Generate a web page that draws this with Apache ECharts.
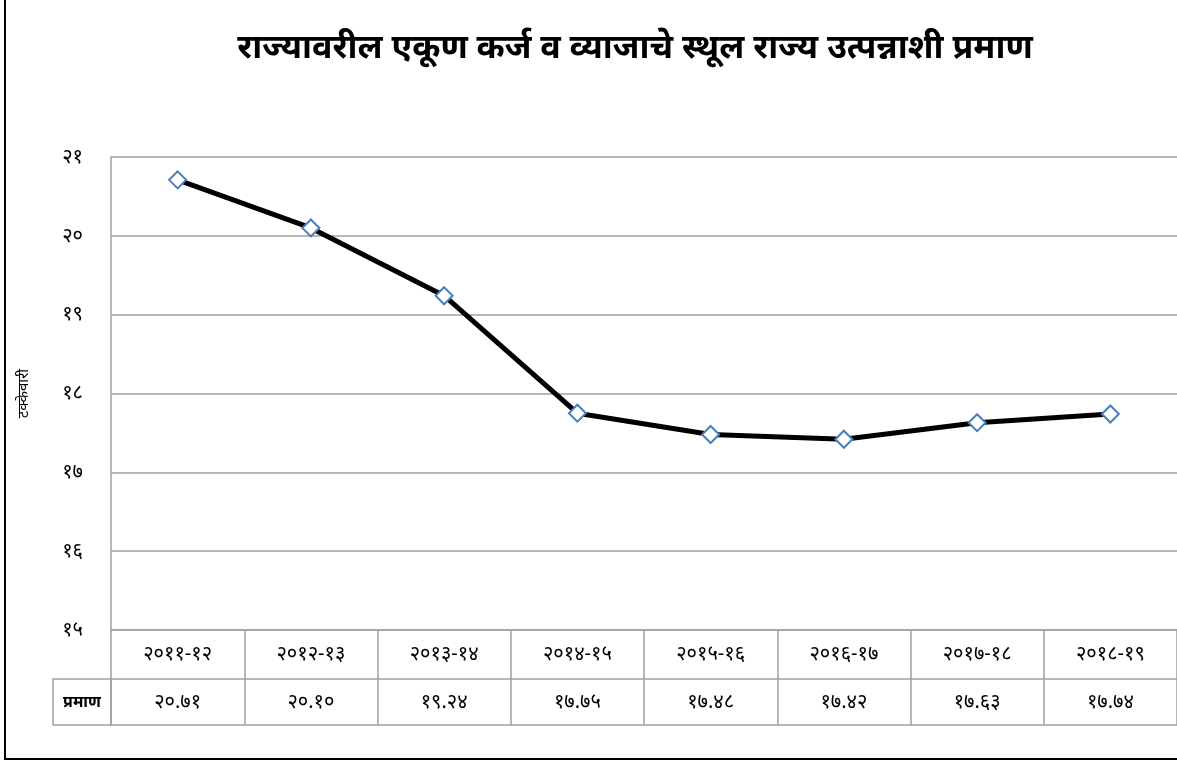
<!DOCTYPE html>
<html>
<head>
<meta charset="utf-8">
<script src="https://cdn.jsdelivr.net/npm/echarts@6/dist/echarts.min.js"></script>
<style>
html,body{margin:0;padding:0;background:#fff;}
#c{width:1177px;height:761px;}
</style>
</head>
<body>
<div id="c"></div>
<script>
const titleText = 'राज्यावरील एकूण कर्ज व व्याजाचे स्थूल राज्य उत्पन्नाशी प्रमाण';
const yAxisName = 'टक्केवारी';
const rowName = 'प्रमाण';
const categories = ['२०११-१२','२०१२-१३','२०१३-१४','२०१४-१५','२०१५-१६','२०१६-१७','२०१७-१८','२०१८-१९'];
const values = [20.71, 20.10, 19.24, 17.75, 17.48, 17.42, 17.63, 17.74];
const yTicks = [15, 16, 17, 18, 19, 20, 21];

const devaDigits = ['०','१','२','३','४','५','६','७','८','९'];
function toDeva(s){ return String(s).replace(/[0-9]/g, d => devaDigits[+d]); }

const FONT = "'Noto Sans', 'Noto Sans Devanagari', sans-serif";
const gridGray = '#a0a0a0';
const numSize = 20;

const chart = echarts.init(document.getElementById('c'), null, {renderer:'canvas'});
chart.setOption({
  animation: false,
  backgroundColor: '#fff',
  textStyle: { fontFamily: FONT },
  title: {
    text: titleText,
    left: 630, textAlign: 'center',
    top: 26,
    textStyle: { fontFamily: FONT, fontSize: 34, fontWeight: 'bold', color: '#000' }
  },
  grid: { left: 111, right: 0, top: 157, bottom: 131, containLabel: false },
  xAxis: [
    {
      type: 'category', data: categories, boundaryGap: true, position: 'bottom',
      axisLine: { show: true, lineStyle: { color: gridGray, width: 1.5 } },
      axisTick: { show: true, interval: 0, length: 95, alignWithLabel: false, lineStyle: { color: gridGray, width: 1.5 } },
      axisLabel: { interval: 0, margin: 24, verticalAlign: 'middle', color: '#000', fontSize: numSize, fontFamily: FONT }
    },
    {
      type: 'category', data: categories, boundaryGap: true, position: 'bottom', offset: 49,
      axisLine: { show: true, lineStyle: { color: gridGray, width: 1.5 } },
      axisTick: { show: false },
      axisLabel: { interval: 0, margin: 23, verticalAlign: 'middle', color: '#000', fontSize: numSize, fontFamily: FONT,
        formatter: (v, i) => toDeva(values[i].toFixed(2)) }
    },
    {
      type: 'category', data: categories, boundaryGap: true, position: 'bottom', offset: 95,
      axisLine: { show: true, lineStyle: { color: gridGray, width: 1.5 } },
      axisTick: { show: false },
      axisLabel: { show: false }
    }
  ],
  yAxis: {
    type: 'value', min: 15, max: 21, interval: 1,
    name: yAxisName, nameLocation: 'middle', nameGap: 80, nameRotate: 90,
    nameTextStyle: { fontSize: 15, color: '#000', fontFamily: FONT },
    axisLine: { show: true, lineStyle: { color: gridGray, width: 1.5 } },
    axisTick: { show: false },
    splitLine: { show: true, lineStyle: { color: gridGray, width: 1.5 } },
    axisLabel: { margin: 28, color: '#000', fontSize: numSize, fontFamily: FONT,
      formatter: v => yTicks.includes(v) ? toDeva(v) : '' }
  },
  series: [{
    type: 'line', data: values, xAxisIndex: 0,
    symbol: 'diamond', symbolSize: 17,
    lineStyle: { color: '#000', width: 5 },
    itemStyle: { color: '#fff', borderColor: '#4a7ebb', borderWidth: 2 },
    z: 5
  }],
  graphic: [
    { type: 'rect', shape: { x: 5, y: -5, width: 1180, height: 764 }, style: { fill: 'none', stroke: '#000', lineWidth: 2 }, silent: true, z: 100 },
    { type: 'rect', shape: { x: 53, y: 679, width: 58, height: 46 }, style: { fill: 'none', stroke: gridGray, lineWidth: 1.5 }, silent: true },
    { type: 'text', x: 82, y: 702, style: { text: rowName, fill: '#000', font: "bold 16px " + FONT, align: 'center', verticalAlign: 'middle' } }
  ]
});
</script>
</body>
</html>
